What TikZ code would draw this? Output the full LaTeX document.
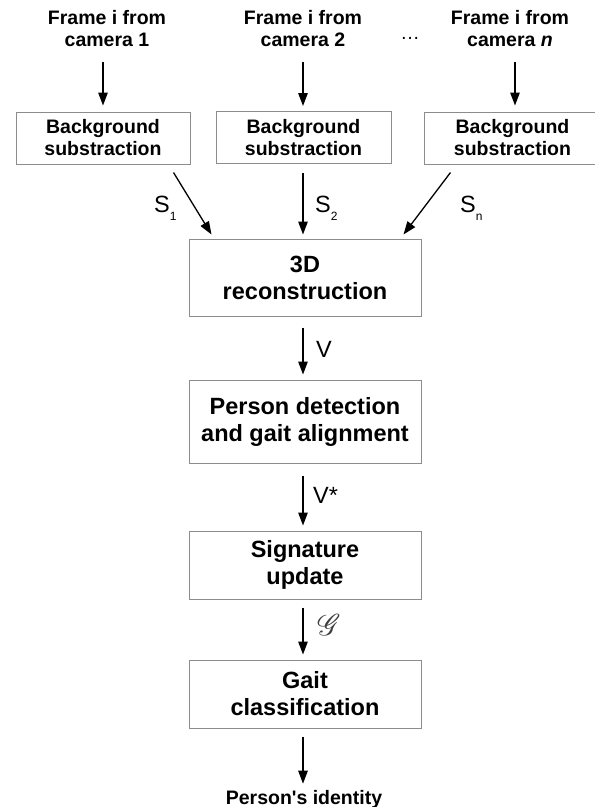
\documentclass[tikz,border=0pt]{standalone}
\usepackage{fontspec}
\setmainfont{Liberation Sans}
\usepackage{mathrsfs}
\usetikzlibrary{arrows.meta,calc}
\definecolor{boxgray}{HTML}{8C8C8C}
\definecolor{scrgray}{HTML}{404040}
\tikzset{
  small/.style={font=\fontsize{19.5}{22}\selectfont\bfseries, align=center, inner sep=0pt},
  big/.style={font=\fontsize{23.5}{27}\selectfont\bfseries, align=center, inner sep=0pt},
  bgbox/.style={draw=boxgray, line width=1pt, rectangle, minimum width=174pt, minimum height=52pt, small},
  stagebox/.style={draw=boxgray, line width=1pt, rectangle, minimum width=232pt, big},
  arr/.style={line width=1.3pt, -{Triangle[length=13pt,width=9.5pt]}},
  lab/.style={font=\fontsize{23.5}{27}\selectfont, inner sep=0pt, anchor=base west},
}
\newcommand{\subl}[1]{\raisebox{-8pt}{\fontsize{12}{12}\selectfont #1}}
\begin{document}
\begin{tikzpicture}[x=1pt,y=-1pt]
\useasboundingbox (0,0) rectangle (595,807);
\clip (0,0) rectangle (595,807);
% top labels
\node[small] (t1) at (107,29) {Frame i from\\camera 1};
\node[small] (t2) at (303,29) {Frame i from\\camera 2};
\node[small] (t3) at (510,29) {Frame i from\\camera \textit{n}};
\node[font=\fontsize{19.5}{22}\selectfont, inner sep=0pt] (dots) at (410,38) {\dots};
% background boxes
\node[bgbox] (b1) at (103,138) {Background\\substraction};
\node[bgbox, minimum width=175pt] (b2) at (303.5,137.5) {Background\\substraction};
\node[bgbox, minimum width=177pt] (b3) at (512.5,138) {Background\\substraction};
% stage boxes
\node[stagebox, minimum height=77pt] (r3d) at (305,277.5) {3D\\reconstruction};
\node[stagebox, minimum height=83pt] (pd) at (305,421.5) {Person detection\\and gait alignment};
\node[stagebox, minimum height=68pt] (sig) at (305,565) {Signature\\update};
\node[stagebox, minimum height=68pt] (gait) at (305,694) {Gait\\classification};
\node[small, anchor=base] (out) at (304,804) {Person\textquotesingle s identity};
% top arrows
\coordinate (a1) at (103,62);
\coordinate (a2) at (303,62);
\coordinate (a3) at (515,62);
\draw[arr] (a1) -- ($(b1.north)+(0,-6)$);
\draw[arr] (a2) -- ($(a2 |- b2.north)+(0,-5)$);
\draw[arr] (a3) -- ($(a3 |- b3.north)+(0,-6)$);
% into 3D
\draw[arr] ($(b1.south east)+(-17,8)$) -- ($(r3d.north west)+(23,-4)$);
\draw[arr] ($(b2.south)+(-0.5,9)$) -- ($(r3d.north)+(-2,-4)$);
\draw[arr] ($(b3.south west)+(27,8)$) -- ($(r3d.north east)+(-18,-4)$);
% vertical chain
\draw[arr] ($(r3d.south)+(-2,11)$) -- ($(pd.north)+(-2,-5)$);
\draw[arr] ($(pd.south)+(-2,12)$) -- ($(sig.north)+(-2,-5)$);
\draw[arr] ($(sig.south)+(-2,8)$) -- ($(gait.north)+(-2,-5)$);
\draw[arr] ($(gait.south)+(-2,8)$) -- ($(out.north)+(-1,-6)$);
% labels
\node[lab] (s1) at (154,212) {S\subl{1}};
\node[lab] (s2) at (315,212) {S\subl{2}};
\node[lab] (sn) at (460,212) {S\subl{n}};
\node[lab] (v) at (316,357) {V};
\node[lab] (vs) at (313,503) {V*};
\node[inner sep=0pt, text=scrgray] (g) at (329,625) {\scalebox{3}{$\mathscr{G}$}};
\end{tikzpicture}
\end{document}
